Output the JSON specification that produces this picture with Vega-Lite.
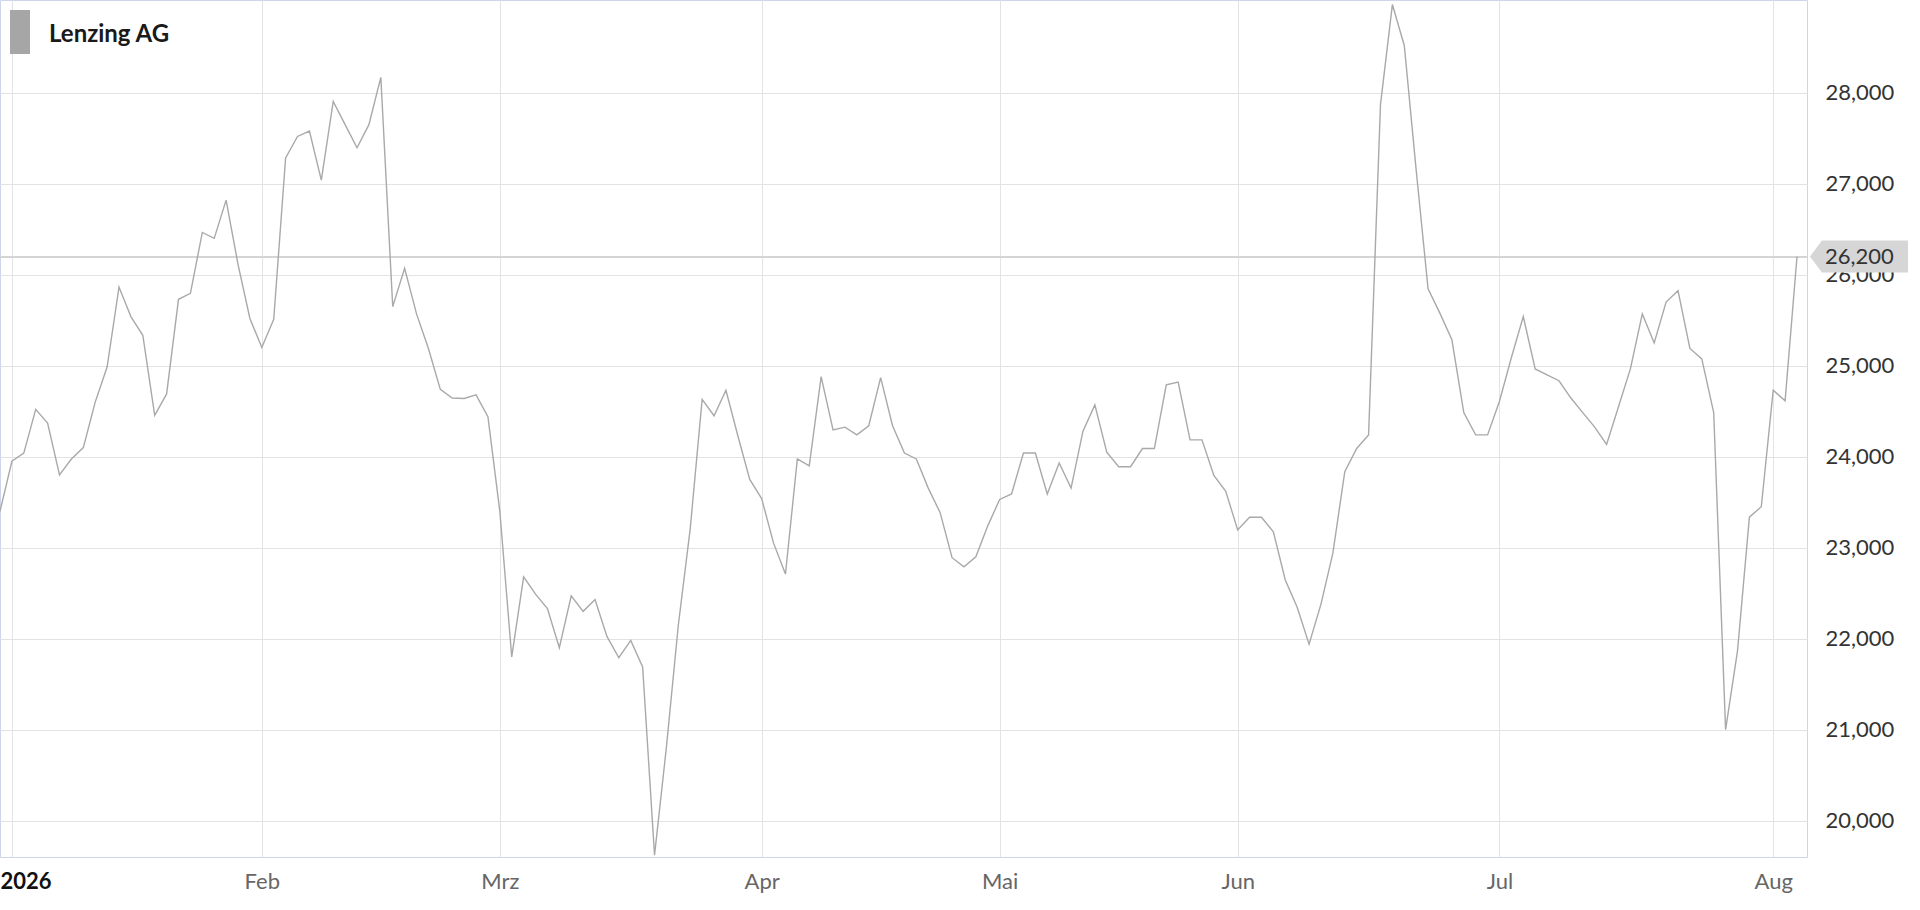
{
  "$schema": "https://vega.github.io/schema/vega-lite/v6.json",
  "width": 1807,
  "height": 857,
  "autosize": {"type": "none"},
  "padding": {"left": 0, "top": 0, "right": 113, "bottom": 53},
  "background": "#ffffff",
  "config": {
    "view": {"stroke": "#ccd6eb", "strokeWidth": 1},
    "font": "Lato"
  },
  "data": {
    "values": [
      {"date": "2025-12-30", "price": 23400},
      {"date": "2026-01-02", "price": 23950},
      {"date": "2026-01-05", "price": 24040},
      {"date": "2026-01-06", "price": 24520},
      {"date": "2026-01-07", "price": 24370},
      {"date": "2026-01-08", "price": 23800},
      {"date": "2026-01-09", "price": 23975},
      {"date": "2026-01-12", "price": 24100},
      {"date": "2026-01-13", "price": 24600},
      {"date": "2026-01-14", "price": 24985},
      {"date": "2026-01-15", "price": 25865},
      {"date": "2026-01-16", "price": 25540},
      {"date": "2026-01-19", "price": 25335},
      {"date": "2026-01-20", "price": 24455},
      {"date": "2026-01-21", "price": 24690},
      {"date": "2026-01-22", "price": 25730},
      {"date": "2026-01-23", "price": 25795},
      {"date": "2026-01-26", "price": 26465},
      {"date": "2026-01-27", "price": 26400},
      {"date": "2026-01-28", "price": 26820},
      {"date": "2026-01-29", "price": 26115},
      {"date": "2026-01-30", "price": 25520},
      {"date": "2026-02-02", "price": 25200},
      {"date": "2026-02-03", "price": 25510},
      {"date": "2026-02-04", "price": 27285},
      {"date": "2026-02-05", "price": 27520},
      {"date": "2026-02-06", "price": 27580},
      {"date": "2026-02-09", "price": 27040},
      {"date": "2026-02-10", "price": 27905},
      {"date": "2026-02-11", "price": 27650},
      {"date": "2026-02-12", "price": 27395},
      {"date": "2026-02-13", "price": 27650},
      {"date": "2026-02-16", "price": 28170},
      {"date": "2026-02-17", "price": 25650},
      {"date": "2026-02-18", "price": 26070},
      {"date": "2026-02-19", "price": 25570},
      {"date": "2026-02-20", "price": 25190},
      {"date": "2026-02-23", "price": 24740},
      {"date": "2026-02-24", "price": 24645},
      {"date": "2026-02-25", "price": 24640},
      {"date": "2026-02-26", "price": 24680},
      {"date": "2026-02-27", "price": 24440},
      {"date": "2026-03-02", "price": 23400},
      {"date": "2026-03-03", "price": 21800},
      {"date": "2026-03-04", "price": 22680},
      {"date": "2026-03-05", "price": 22490},
      {"date": "2026-03-06", "price": 22330},
      {"date": "2026-03-09", "price": 21900},
      {"date": "2026-03-10", "price": 22470},
      {"date": "2026-03-11", "price": 22300},
      {"date": "2026-03-12", "price": 22430},
      {"date": "2026-03-13", "price": 22025},
      {"date": "2026-03-16", "price": 21790},
      {"date": "2026-03-17", "price": 21980},
      {"date": "2026-03-18", "price": 21690},
      {"date": "2026-03-19", "price": 19620},
      {"date": "2026-03-20", "price": 20810},
      {"date": "2026-03-23", "price": 22150},
      {"date": "2026-03-24", "price": 23210},
      {"date": "2026-03-25", "price": 24630},
      {"date": "2026-03-26", "price": 24450},
      {"date": "2026-03-27", "price": 24730},
      {"date": "2026-03-30", "price": 24230},
      {"date": "2026-03-31", "price": 23750},
      {"date": "2026-04-01", "price": 23540},
      {"date": "2026-04-02", "price": 23050},
      {"date": "2026-04-07", "price": 22710},
      {"date": "2026-04-08", "price": 23975},
      {"date": "2026-04-09", "price": 23900},
      {"date": "2026-04-10", "price": 24880},
      {"date": "2026-04-13", "price": 24295},
      {"date": "2026-04-14", "price": 24325},
      {"date": "2026-04-15", "price": 24240},
      {"date": "2026-04-16", "price": 24340},
      {"date": "2026-04-17", "price": 24870},
      {"date": "2026-04-20", "price": 24340},
      {"date": "2026-04-21", "price": 24040},
      {"date": "2026-04-22", "price": 23975},
      {"date": "2026-04-23", "price": 23655},
      {"date": "2026-04-24", "price": 23385},
      {"date": "2026-04-27", "price": 22890},
      {"date": "2026-04-28", "price": 22790},
      {"date": "2026-04-29", "price": 22900},
      {"date": "2026-04-30", "price": 23240},
      {"date": "2026-05-04", "price": 23530},
      {"date": "2026-05-05", "price": 23590},
      {"date": "2026-05-06", "price": 24040},
      {"date": "2026-05-07", "price": 24040},
      {"date": "2026-05-08", "price": 23590},
      {"date": "2026-05-11", "price": 23930},
      {"date": "2026-05-12", "price": 23655},
      {"date": "2026-05-13", "price": 24280},
      {"date": "2026-05-14", "price": 24570},
      {"date": "2026-05-15", "price": 24050},
      {"date": "2026-05-18", "price": 23890},
      {"date": "2026-05-19", "price": 23890},
      {"date": "2026-05-20", "price": 24090},
      {"date": "2026-05-21", "price": 24090},
      {"date": "2026-05-22", "price": 24790},
      {"date": "2026-05-25", "price": 24820},
      {"date": "2026-05-26", "price": 24185},
      {"date": "2026-05-27", "price": 24185},
      {"date": "2026-05-28", "price": 23795},
      {"date": "2026-05-29", "price": 23620},
      {"date": "2026-06-01", "price": 23195},
      {"date": "2026-06-02", "price": 23335},
      {"date": "2026-06-03", "price": 23335},
      {"date": "2026-06-04", "price": 23175},
      {"date": "2026-06-05", "price": 22645},
      {"date": "2026-06-08", "price": 22345},
      {"date": "2026-06-09", "price": 21940},
      {"date": "2026-06-10", "price": 22380},
      {"date": "2026-06-11", "price": 22940},
      {"date": "2026-06-12", "price": 23835},
      {"date": "2026-06-15", "price": 24090},
      {"date": "2026-06-16", "price": 24240},
      {"date": "2026-06-17", "price": 27870},
      {"date": "2026-06-18", "price": 28970},
      {"date": "2026-06-19", "price": 28520},
      {"date": "2026-06-22", "price": 27150},
      {"date": "2026-06-23", "price": 25845},
      {"date": "2026-06-24", "price": 25575},
      {"date": "2026-06-25", "price": 25285},
      {"date": "2026-06-26", "price": 24485},
      {"date": "2026-06-29", "price": 24240},
      {"date": "2026-06-30", "price": 24240},
      {"date": "2026-07-01", "price": 24610},
      {"date": "2026-07-02", "price": 25090},
      {"date": "2026-07-03", "price": 25540},
      {"date": "2026-07-06", "price": 24965},
      {"date": "2026-07-07", "price": 24900},
      {"date": "2026-07-08", "price": 24835},
      {"date": "2026-07-09", "price": 24645},
      {"date": "2026-07-10", "price": 24485},
      {"date": "2026-07-13", "price": 24325},
      {"date": "2026-07-14", "price": 24135},
      {"date": "2026-07-15", "price": 24550},
      {"date": "2026-07-16", "price": 24965},
      {"date": "2026-07-17", "price": 25570},
      {"date": "2026-07-20", "price": 25250},
      {"date": "2026-07-21", "price": 25700},
      {"date": "2026-07-22", "price": 25825},
      {"date": "2026-07-23", "price": 25190},
      {"date": "2026-07-24", "price": 25075},
      {"date": "2026-07-27", "price": 24485},
      {"date": "2026-07-28", "price": 21000},
      {"date": "2026-07-29", "price": 21865},
      {"date": "2026-07-30", "price": 23335},
      {"date": "2026-07-31", "price": 23450},
      {"date": "2026-08-03", "price": 24730},
      {"date": "2026-08-04", "price": 24615},
      {"date": "2026-08-05", "price": 26200}
    ]
  },
  "encoding": {
    "x": {
      "field": "date",
      "type": "ordinal",
      "scale": {"type": "point", "padding": 0.42, "align": 0},
      "axis": {
        "title": null,
        "values": ["2026-01-02", "2026-02-02", "2026-03-02", "2026-04-01", "2026-05-04", "2026-06-01", "2026-07-01", "2026-08-03"],
        "labelExpr": "['2026','Feb','Mrz','Apr','Mai','Jun','Jul','Aug'][toNumber(substring(datum.value,5,7))-1]",
        "labelAngle": 0,
        "labelFont": "Lato",
        "labelFontSize": 22,
        "labelColor": {"condition": {"test": "datum.value == '2026-01-02'", "value": "#111111"}, "value": "#666666"},
        "labelFontWeight": {"condition": {"test": "datum.value == '2026-01-02'", "value": "bold"}, "value": "normal"},
        "labelAlign": {"condition": {"test": "datum.value == '2026-01-02'", "value": "left"}, "value": "center"},
        "labelOffset": {"condition": {"test": "datum.value == '2026-01-02'", "value": -12}, "value": 0},
        "labelBaseline": "top",
        "labelPadding": 14,
        "ticks": false,
        "domain": false,
        "grid": true,
        "gridColor": "#e3e3e3",
        "gridWidth": 1
      }
    }
  },
  "layer": [
    {
      "mark": {"type": "rule", "color": "#d6d6d6", "strokeWidth": 1},
      "encoding": {"y": {"datum": 26200, "type": "quantitative"}, "x": null}
    },
    {
      "mark": {"type": "line", "strokeWidth": 1.4, "interpolate": "linear"},
      "encoding": {
        "y": {
          "field": "price",
          "type": "quantitative",
          "scale": {"domain": [19600, 29020], "nice": false, "zero": false},
          "axis": {
            "orient": "right",
            "title": null,
            "values": [20000, 21000, 22000, 23000, 24000, 25000, 26000, 27000, 28000],
            "format": ",d",
            "labelFont": "Lato",
            "labelFontSize": 22,
            "labelColor": "#333333",
            "labelPadding": 18,
            "labelAlign": "left",
            "labelBaseline": "middle",
            "ticks": false,
            "domain": false,
            "grid": true,
            "gridColor": "#e3e3e3",
            "gridWidth": 1
          }
        },
        "color": {
          "datum": "Lenzing AG",
          "type": "nominal",
          "scale": {"range": ["#a9a9a9"]},
          "legend": {
            "title": null,
            "orient": "none",
            "legendX": -2,
            "legendY": 10,
            "padding": 0,
            "symbolType": "M-0.4545,-1H0.4545V1H-0.4545Z",
            "symbolSize": 1936,
            "symbolFillColor": "#a6a6a6",
            "symbolStrokeWidth": 0,
            "labelFont": "Lato",
            "labelFontSize": 24,
            "labelFontWeight": "bold",
            "labelColor": "#1a1a1a",
            "labelOffset": 7,
            "encode": {
              "symbols": {
                "update": {
                  "fill": {"value": "#a6a6a6"},
                  "stroke": {"value": "transparent"},
                  "strokeWidth": {"value": 0},
                  "opacity": {"value": 1}
                }
              },
              "labels": {
                "update": {
                  "dy": {"value": 3}
                }
              }
            }
          }
        }
      }
    },
    {
      "transform": [{"filter": "datum.date == '2026-08-05'"}],
      "mark": {
        "type": "point",
        "shape": "M1.3,0L2.5,-1.6L11.1,-1.6L11.1,1.6L2.5,1.6Z",
        "size": 400,
        "filled": true,
        "fill": "#d6d6d6",
        "strokeWidth": 0,
        "opacity": 1
      },
      "encoding": {
        "y": {"field": "price", "type": "quantitative"}
      }
    },
    {
      "transform": [{"filter": "datum.date == '2026-08-05'"}],
      "mark": {
        "type": "text",
        "align": "left",
        "baseline": "middle",
        "dx": 28,
        "font": "Lato",
        "fontSize": 22,
        "color": "#333333"
      },
      "encoding": {
        "y": {"field": "price", "type": "quantitative"},
        "text": {"field": "price", "type": "quantitative", "format": ",d"}
      }
    }
  ]
}
